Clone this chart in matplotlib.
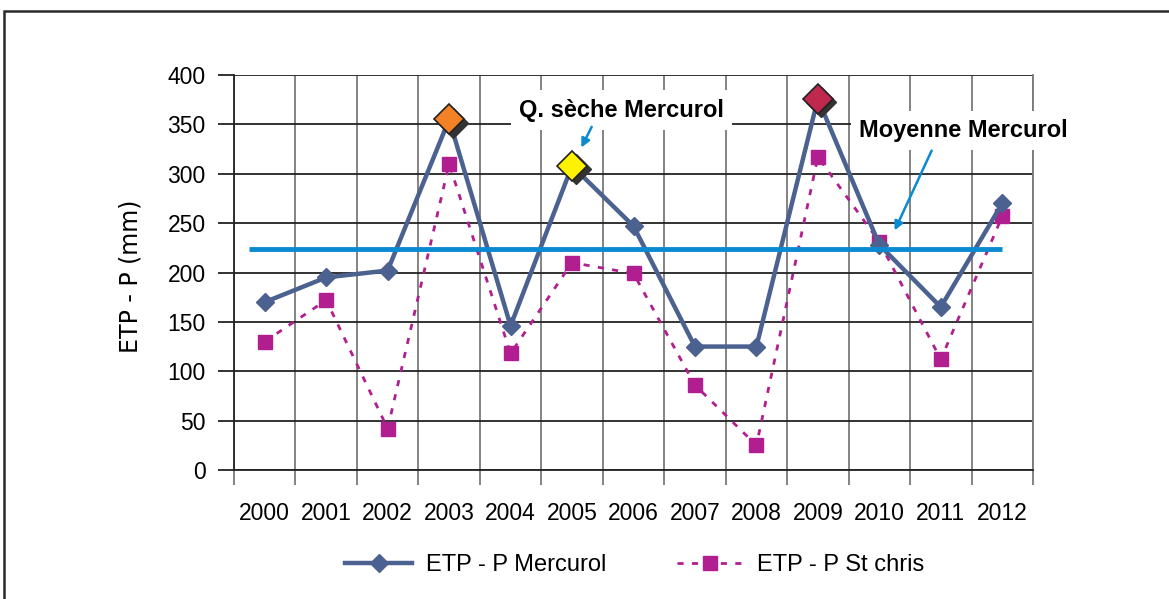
import numpy as np
import matplotlib
matplotlib.use("Agg")
import matplotlib.pyplot as plt
from matplotlib.patches import Rectangle
import matplotlib.transforms as mtransforms

plt.rcParams['font.family'] = ['Liberation Sans', 'DejaVu Sans']

# data
annees = ['2000', '2001', '2002', '2003', '2004', '2005', '2006',
          '2007', '2008', '2009', '2010', '2011', '2012']
mercurol = [170, 195, 202, 355, 146, 308, 247, 125, 125, 376, 228, 165, 270]
st_chris = [130, 172, 42, 310, 118, 210, 199, 86, 25, 317, 231, 112, 257]
moyenne_mercurol = 224
# highlighted years (index, colour)
annees_marquees = [3, 5, 9]
couleurs_marquees = ['#F28225', '#FFF200', '#C0294D']
yticks = [0, 50, 100, 150, 200, 250, 300, 350, 400]

c_merc = '#4B6190'
c_chris = '#B11E8F'
c_moy = '#0A8AD0'

fig = plt.figure(figsize=(11.69, 5.99), dpi=100)
ax = fig.add_axes([234/1169, 1-470/599, (1033-234)/1169, (470-75)/599])

x = np.arange(len(annees))

# grid
ax.set_xlim(-0.5, len(annees) - 0.5)
ax.set_ylim(0, 400)
ax.set_yticks(yticks)
ax.set_xticks(x)
ax.set_xticklabels(annees)
ax.set_xticks(np.arange(-0.5, len(annees), 1.0), minor=True)
ax.tick_params(axis='x', which='major', length=0, pad=23, labelsize=16.5)
ax.tick_params(axis='x', which='minor', length=11, width=1.3, color='#7a7a7a')
ax.tick_params(axis='y', length=11.5, width=1.3, color='#222222', labelsize=16.5, pad=9)
ax.grid(axis='y', color='#222222', lw=1.3, zorder=0)
ax.grid(axis='x', which='minor', color='#7a7a7a', lw=1.3, zorder=0)
ax.set_axisbelow(True)
for s in ['left', 'bottom']:
    ax.spines[s].set_color('#222222')
    ax.spines[s].set_linewidth(1.3)
ax.spines['top'].set_visible(False)
ax.spines['right'].set_color('#7a7a7a')
ax.spines['right'].set_linewidth(1.3)

ax.set_ylabel('ETP - P (mm)', fontsize=17, family='DejaVu Sans')
ax.yaxis.set_label_coords(-0.115, 0.49)

# series
ax.plot(x, st_chris, color=c_chris, lw=2, ls=(0, (2.2, 3.0)), marker='s',
        ms=10, mec=c_chris, mfc=c_chris, label='ETP - P St chris', zorder=3)
ax.plot(x, mercurol, color=c_merc, lw=3.2, marker='D', ms=9,
        mec=c_merc, mfc=c_merc, label='ETP - P Mercurol', zorder=4)

# highlighted markers with a shadow
ombre = mtransforms.offset_copy(ax.transData, fig=fig, x=2.5, y=-2.5, units='points')
for i, c in zip(annees_marquees, couleurs_marquees):
    ax.plot(x[i], mercurol[i], marker='D', ms=15, color='#333333', mec='#333333',
            transform=ombre, zorder=5)
    ax.plot(x[i], mercurol[i], marker='D', ms=15, color=c, mec='#222222',
            mew=1.2, zorder=6)

# mean line
ax.hlines(moyenne_mercurol, -0.25, len(annees) - 1, color=c_moy, lw=3.5, zorder=5)

# annotations
boite = dict(facecolor='white', edgecolor='none', pad=6)
ax.text(5.8, 364.5, 'Q. sèche Mercurol', fontsize=17, fontweight='bold',
        ha='center', va='center', bbox=boite, zorder=7)
ax.annotate('', xy=(5.13, 324), xytext=(5.34, 350),
            arrowprops=dict(arrowstyle='-|>', color=c_moy, lw=1.8,
                            mutation_scale=13), zorder=7)
ax.text(11.37, 344, 'Moyenne Mercurol', fontsize=17, fontweight='bold',
        ha='center', va='center', bbox=boite, zorder=7)
ax.annotate('', xy=(10.23, 240), xytext=(10.87, 326),
            arrowprops=dict(arrowstyle='-|>', color=c_moy, lw=1.8,
                            mutation_scale=13), zorder=7)

# legend
h, l = ax.get_legend_handles_labels()
fig.legend(h[::-1], l[::-1], loc='center', bbox_to_anchor=(635/1169, 1-565/599),
           ncol=2, frameon=False, fontsize=17, handlelength=2.8,
           columnspacing=3.0, handletextpad=0.6)

# outer frame
fig.patches.append(Rectangle((4/1169, -0.02), 1.02, 1-11/599+0.02,
                             transform=fig.transFigure, fill=False,
                             edgecolor='#2a2a2a', lw=1.8))

fig.savefig('out.png', dpi=100)
